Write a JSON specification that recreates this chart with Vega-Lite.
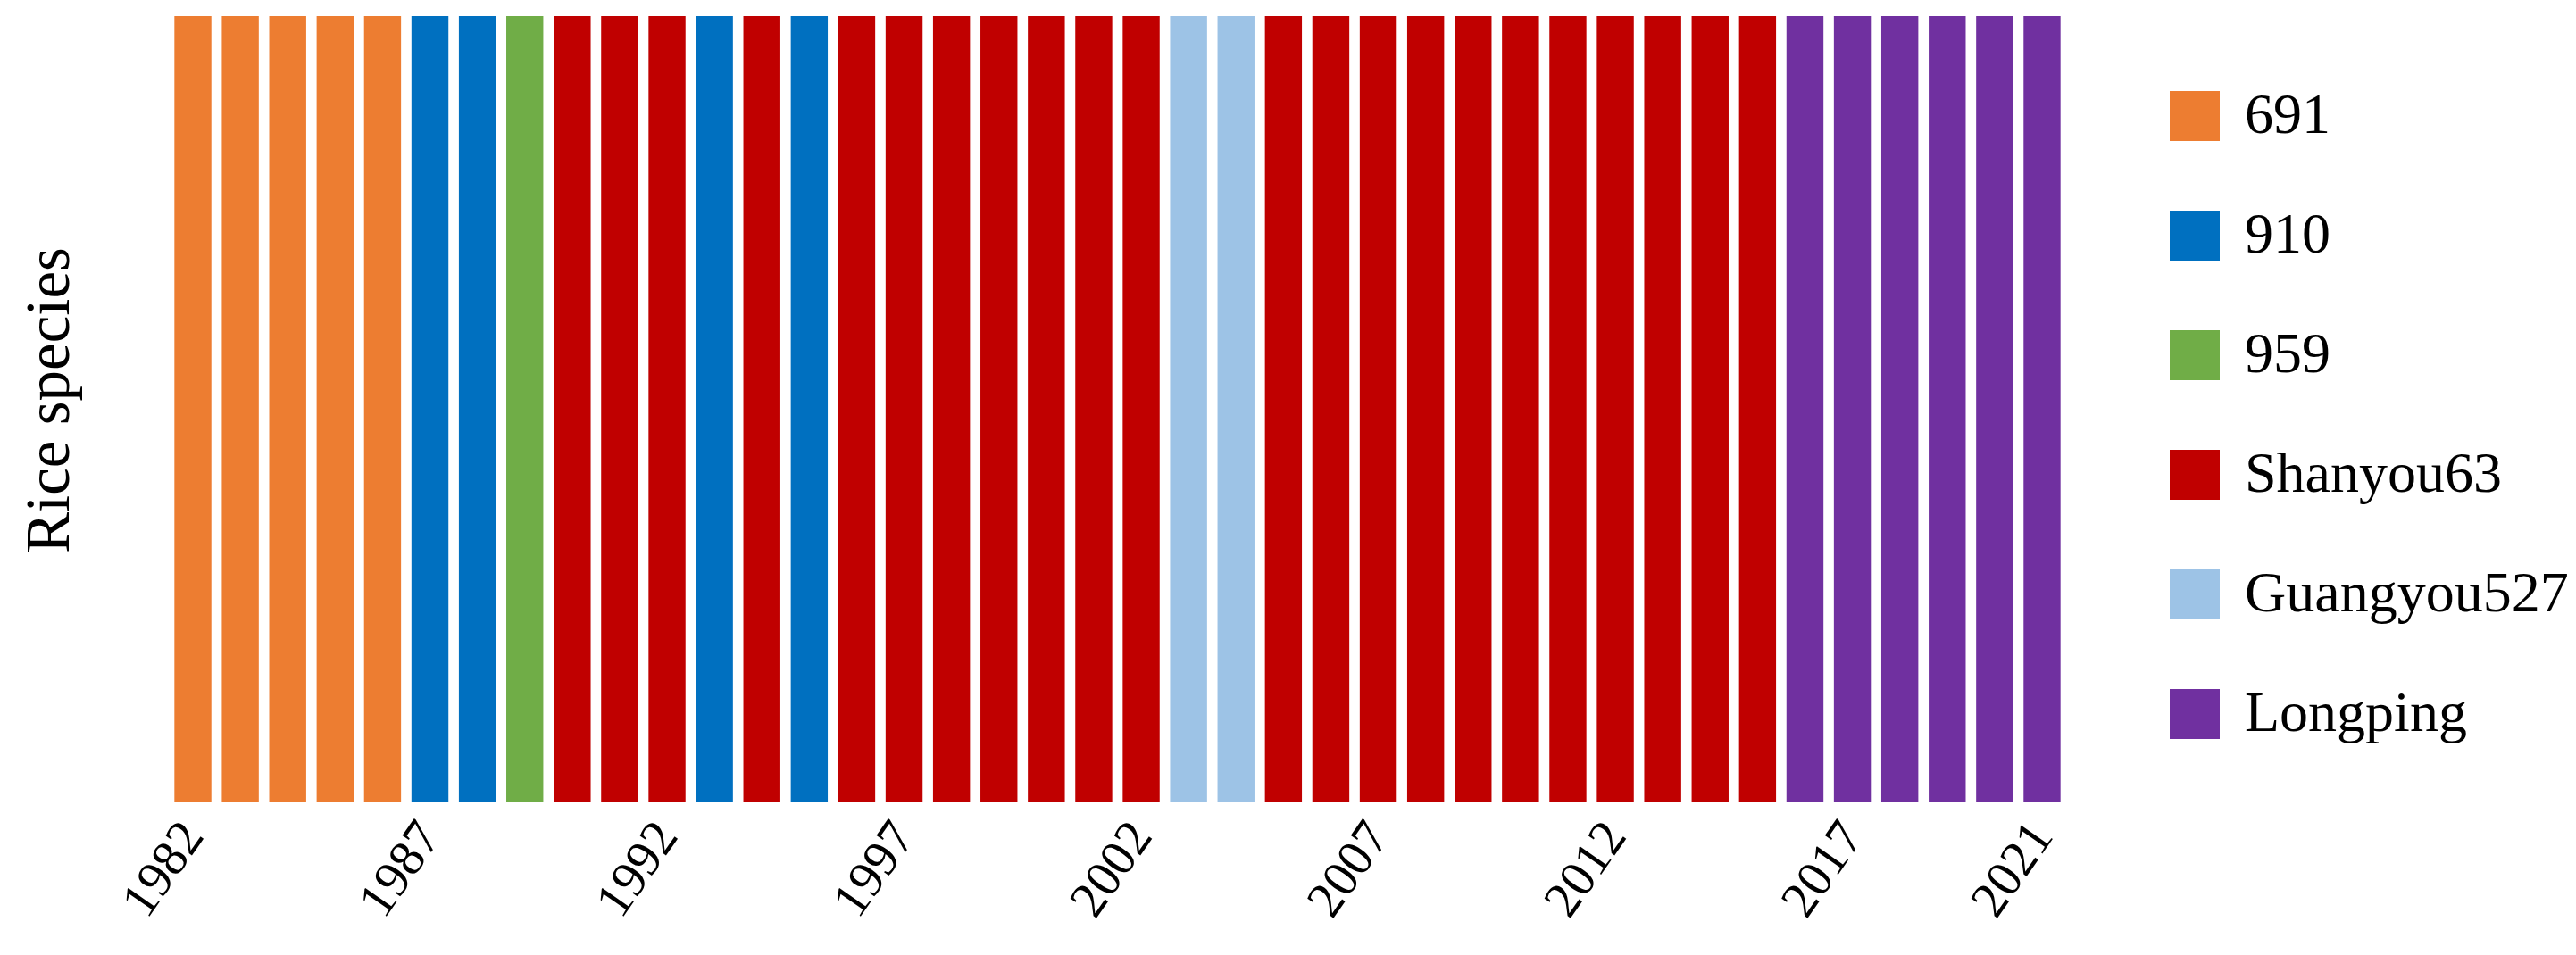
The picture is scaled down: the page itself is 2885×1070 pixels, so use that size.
{
  "$schema": "https://vega.github.io/schema/vega-lite/v6.json",
  "autosize": "none",
  "width": 2123,
  "height": 881,
  "padding": {"left": 190, "top": 18, "right": 572, "bottom": 171},
  "background": "white",
  "config": {
    "font": "Liberation Serif",
    "view": {"stroke": null}
  },
  "data": {
    "values": [
      {"year": 1982, "species": "691"},
      {"year": 1983, "species": "691"},
      {"year": 1984, "species": "691"},
      {"year": 1985, "species": "691"},
      {"year": 1986, "species": "691"},
      {"year": 1987, "species": "910"},
      {"year": 1988, "species": "910"},
      {"year": 1989, "species": "959"},
      {"year": 1990, "species": "Shanyou63"},
      {"year": 1991, "species": "Shanyou63"},
      {"year": 1992, "species": "Shanyou63"},
      {"year": 1993, "species": "910"},
      {"year": 1994, "species": "Shanyou63"},
      {"year": 1995, "species": "910"},
      {"year": 1996, "species": "Shanyou63"},
      {"year": 1997, "species": "Shanyou63"},
      {"year": 1998, "species": "Shanyou63"},
      {"year": 1999, "species": "Shanyou63"},
      {"year": 2000, "species": "Shanyou63"},
      {"year": 2001, "species": "Shanyou63"},
      {"year": 2002, "species": "Shanyou63"},
      {"year": 2003, "species": "Guangyou527"},
      {"year": 2004, "species": "Guangyou527"},
      {"year": 2005, "species": "Shanyou63"},
      {"year": 2006, "species": "Shanyou63"},
      {"year": 2007, "species": "Shanyou63"},
      {"year": 2008, "species": "Shanyou63"},
      {"year": 2009, "species": "Shanyou63"},
      {"year": 2010, "species": "Shanyou63"},
      {"year": 2011, "species": "Shanyou63"},
      {"year": 2012, "species": "Shanyou63"},
      {"year": 2013, "species": "Shanyou63"},
      {"year": 2014, "species": "Shanyou63"},
      {"year": 2015, "species": "Shanyou63"},
      {"year": 2016, "species": "Longping"},
      {"year": 2017, "species": "Longping"},
      {"year": 2018, "species": "Longping"},
      {"year": 2019, "species": "Longping"},
      {"year": 2020, "species": "Longping"},
      {"year": 2021, "species": "Longping"}
    ]
  },
  "mark": {"type": "bar"},
  "encoding": {
    "x": {
      "field": "year",
      "type": "ordinal",
      "scale": {"paddingInner": 0.22, "paddingOuter": 0.1},
      "axis": {
        "title": null,
        "values": [1982, 1987, 1992, 1997, 2002, 2007, 2012, 2017, 2021],
        "labelAngle": -55,
        "labelFontSize": 57,
        "labelColor": "black",
        "labelPadding": 28,
        "ticks": false,
        "tickSize": 0,
        "domain": false,
        "grid": false
      }
    },
    "y": {
      "datum": 1,
      "type": "quantitative",
      "scale": {"domain": [0, 1]},
      "axis": {
        "title": "Rice species",
        "titleFontSize": 69,
        "titleFontWeight": "normal",
        "titleColor": "black",
        "titlePadding": 100,
        "titleY": 430,
        "labels": false,
        "ticks": false,
        "tickSize": 0,
        "domain": false,
        "grid": false
      }
    },
    "color": {
      "field": "species",
      "type": "nominal",
      "scale": {
        "domain": ["691", "910", "959", "Shanyou63", "Guangyou527", "Longping"],
        "range": ["#ED7D31", "#0070C0", "#70AD47", "#C00000", "#9DC3E6", "#7030A0"]
      },
      "legend": {
        "title": null,
        "orient": "none",
        "legendX": 2236,
        "legendY": 80,
        "symbolType": "square",
        "symbolSize": 3136,
        "symbolStrokeWidth": 0,
        "symbolOpacity": 1,
        "labelFontSize": 64,
        "labelColor": "black",
        "labelOffset": 24,
        "rowPadding": 70,
        "labelLimit": 600
      }
    }
  }
}
